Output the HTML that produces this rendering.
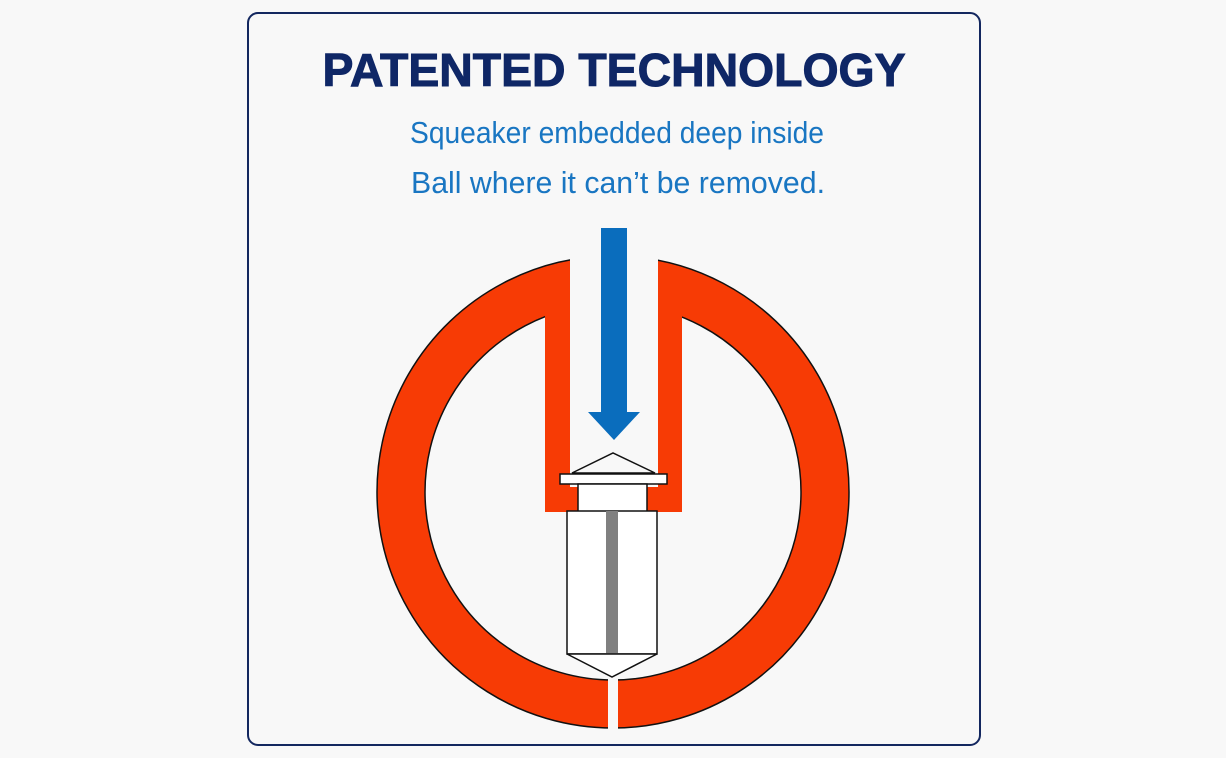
<!DOCTYPE html>
<html><head><style>
html,body{margin:0;padding:0;background:#f8f8f8;}
svg{display:block;}
</style></head><body>
<svg width="1226" height="758" viewBox="0 0 1226 758" xmlns="http://www.w3.org/2000/svg">
<rect x="0" y="0" width="1226" height="758" fill="#f8f8f8"/>
<rect x="248" y="13" width="732" height="732" rx="10" fill="#f8f8f8" stroke="#13275f" stroke-width="2"/>
<text x="614" y="86" text-anchor="middle" font-family="Liberation Sans, sans-serif" font-weight="bold" font-size="46" fill="#0f2766" stroke="#0f2766" stroke-width="1" textLength="583" lengthAdjust="spacingAndGlyphs">PATENTED TECHNOLOGY</text>
<text x="617" y="143" text-anchor="middle" font-family="Liberation Sans, sans-serif" font-size="31" fill="#1976c2" textLength="414" lengthAdjust="spacingAndGlyphs">Squeaker embedded deep inside</text>
<text x="618" y="193" text-anchor="middle" font-family="Liberation Sans, sans-serif" font-size="31" fill="#1976c2" textLength="414" lengthAdjust="spacingAndGlyphs">Ball where it can’t be removed.</text>
<path fill-rule="evenodd" fill="#f73b05" stroke="#111" stroke-width="1.5" d="M613,256 a236,236 0 1,0 0.01,0 Z M613,304 a188,188 0 1,0 0.01,0 Z"/>
<path fill="#f73b05" d="M545,300 L570,300 L570,487 L658,487 L658,300 L682,300 L682,512 L545,512 Z"/>
<rect x="570" y="240" width="88" height="247" fill="#f8f8f8"/>
<rect x="608" y="676" width="10" height="58" fill="#f8f8f8"/>
<rect x="601" y="228" width="26" height="186" fill="#0a6dbd"/>
<polygon points="588,412 640,412 614,440" fill="#0a6dbd"/>
<polygon points="572,473 655,473 613,453" fill="#f8f8f8" stroke="#111" stroke-width="1.5"/>
<rect x="560" y="474" width="107" height="10" fill="#fff" stroke="#111" stroke-width="1.5"/>
<rect x="578" y="484" width="69" height="28" fill="#fff" stroke="#111" stroke-width="1.5"/>
<rect x="567" y="511" width="90" height="143" fill="#fff" stroke="#111" stroke-width="1.5"/>
<rect x="606" y="511" width="12" height="143" fill="#808080"/>
<polygon points="567,654 657,654 612,677" fill="#fff" stroke="#111" stroke-width="1.5"/>
</svg>
</body></html>
